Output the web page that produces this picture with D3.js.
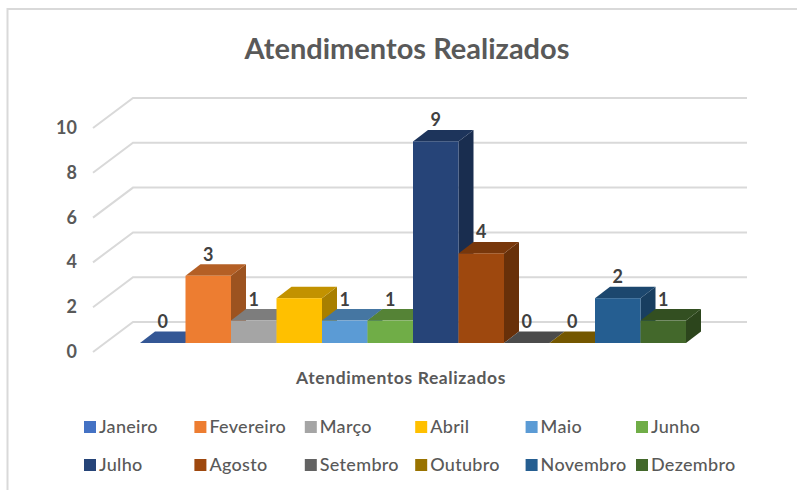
<!DOCTYPE html>
<html>
<head>
<meta charset="utf-8">
<script src="https://cdn.jsdelivr.net/npm/d3@7"></script>
<style>
  body { margin: 0; background: #fff; }
  text { font-family: Lato, "Open Sans", sans-serif; fill: #595959; }
</style>
</head>
<body>
<div id="chart"></div>
<script>
var meses = ["Janeiro","Fevereiro","Março","Abril","Maio","Junho","Julho","Agosto","Setembro","Outubro","Novembro","Dezembro"];
var atendimentos = [0,3,1,2,1,1,9,4,0,0,2,1];
var semRotulo = ["Abril"];   // this bar has no value label in the original
var yTicks = [0,2,4,6,8,10];
var cores = ["#4472c4","#ed7d31","#a5a5a5","#ffc000","#5b9bd5","#70ad47","#264478","#9e480e","#636363","#997300","#255e91","#43682b"];

var width = 797, height = 490;
var depthX = 15, depthY = 11.5;   // 3d offset of the bars
var wallX = 40, wallY = 30;       // floor depth at the left wall

var svg = d3.select("#chart").append("svg")
    .attr("width",width)
    .attr("height",height)
    .style("display","block");

var x = d3.scaleBand().domain(meses).range([140,686]);
var y = d3.scaleLinear().domain([0,10]).range([343,119]);

// chart frame, only left and top show in the screenshot
svg.append("path")
    .attr("d","M7.5,490V9H797")
    .attr("fill","none")
    .attr("stroke","#d9d9d9")
    .attr("stroke-width",2);

// back wall gridlines and the slanted left wall
var grid = svg.append("g").selectAll("g")
    .data(yTicks)
    .enter()
     .append("g")
      .attr("fill","none")
      .attr("stroke","#d9d9d9")
      .attr("stroke-width",2);

grid.append("path")
    .attr("d",function(d){
        var yb = y(d) - 21;
        return "M" + (133 - wallX) + "," + (yb + wallY) + "L133," + yb + "H747";
    });

svg.append("g").selectAll("text")
    .data(yTicks)
    .enter()
     .append("text")
      .attr("x",77)
      .attr("y",function(d){return y(d) + 15;})
      .attr("text-anchor","end")
      .style("font-size","18px")
      .style("font-weight",700)
      .text(function(d){return d;});

// bars, left to right so that each one covers the side of the previous one
var bars = svg.append("g").selectAll("g")
    .data(meses)
    .enter()
     .append("g");

function shade(i,k){
    var c = d3.rgb(cores[i]);
    return d3.rgb(c.r*k,c.g*k,c.b*k).formatHex();
}

bars.append("path")
    .attr("fill",function(d,i){return shade(i,0.66);})
    .attr("d",function(d,i){
        var xr = x(d) + x.bandwidth(), yt = y(atendimentos[i]), y0 = y(0);
        return "M" + xr + "," + yt + "l" + depthX + "," + (-depthY) + "V" + (y0 - depthY) + "l" + (-depthX) + "," + depthY + "Z";
    });

bars.append("path")
    .attr("fill",function(d,i){return shade(i,0.76);})
    .attr("d",function(d,i){
        var xl = x(d), yt = y(atendimentos[i]), w = x.bandwidth();
        return "M" + xl + "," + yt + "l" + depthX + "," + (-depthY) + "h" + w + "l" + (-depthX) + "," + depthY + "Z";
    });

bars.append("rect")
    .attr("x",function(d){return x(d);})
    .attr("y",function(d,i){return y(atendimentos[i]);})
    .attr("width",x.bandwidth())
    .attr("height",function(d,i){return y(0) - y(atendimentos[i]);})
    .attr("fill",function(d,i){return cores[i];});

svg.append("g").selectAll("text")
    .data(meses.filter(function(d){return semRotulo.indexOf(d) < 0;}))
    .enter()
     .append("text")
      .attr("x",function(d){return x(d) + x.bandwidth()/2;})
      .attr("y",function(d){return y(atendimentos[meses.indexOf(d)]) - 15;})
      .attr("text-anchor","middle")
      .style("font-size","18px")
      .style("font-weight",700)
      .style("fill","#404040")
      .text(function(d){return atendimentos[meses.indexOf(d)];});

// titles
svg.append("text")
    .attr("x",407)
    .attr("y",59)
    .attr("text-anchor","middle")
    .style("font-size","29px")
    .style("font-weight",700)
    .text("Atendimentos Realizados");

svg.append("text")
    .attr("x",401)
    .attr("y",384)
    .attr("text-anchor","middle")
    .style("font-size","17.5px")
    .style("font-weight",700)
    .style("letter-spacing","0.6px")
    .text("Atendimentos Realizados");

// legend, two rows of six
var legendX = d3.scalePoint().domain(d3.range(6)).range([84,636]);
var legendY = d3.scalePoint().domain([0,1]).range([427,465]);

var legend = svg.append("g").selectAll("g")
    .data(meses)
    .enter()
     .append("g")
      .attr("transform",function(d,i){
        return "translate(" + legendX(i%6) + "," + legendY(Math.floor(i/6)) + ")";
      });

legend.append("rect")
    .attr("x",0)
    .attr("y",-6)
    .attr("width",12)
    .attr("height",12)
    .attr("fill",function(d,i){return cores[i];});

legend.append("text")
    .attr("x",15)
    .attr("y",6)
    .style("font-size","18px")
    .style("font-weight",500)
    .style("letter-spacing","0.3px")
    .text(function(d){return d;});
</script>
</body>
</html>
